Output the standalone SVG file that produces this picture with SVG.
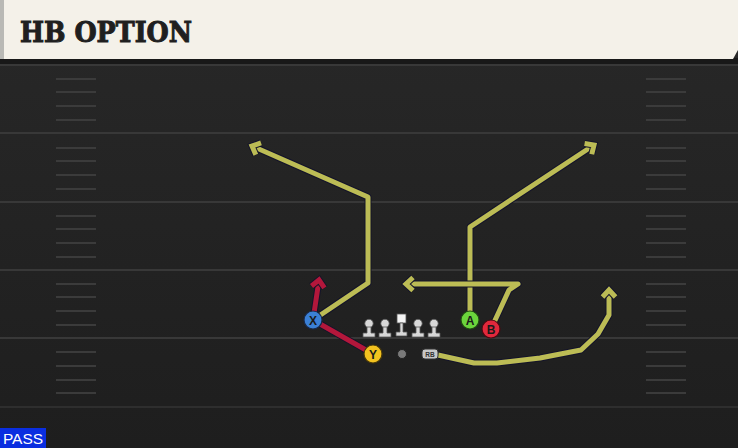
<svg xmlns="http://www.w3.org/2000/svg" width="738" height="448" viewBox="0 0 738 448">
<style>
.yl{stroke:#383838;stroke-width:2}
.hm{stroke:#3b3b3b;stroke-width:2}
.rt{fill:none;stroke-linejoin:round;stroke-linecap:butt}
.ro{stroke:#14142a;stroke-width:7}
.ry{stroke:#bcbc55;stroke-width:5}
.rr{stroke:#b3173b;stroke-width:5}
.lbl{font-family:"Liberation Sans",Arial,sans-serif;font-weight:bold;font-size:12px;text-anchor:middle;fill:#1a1a1a}
.ol{fill:#d8d8d8;stroke:#555;stroke-width:0.8}
.ah{fill:none;stroke-linejoin:miter;stroke-linecap:butt}
</style>
<defs>
<linearGradient id="bg" x1="0" y1="0" x2="0" y2="1">
<stop offset="0" stop-color="#282828"/>
<stop offset="1" stop-color="#1e1e1e"/>
</linearGradient>
<marker id="ay" markerWidth="20" markerHeight="20" refX="0" refY="0" viewBox="-12 -10 20 20" orient="auto" markerUnits="userSpaceOnUse" overflow="visible">
<path class="ah" d="M-7,-6.5 L0,0 L-7,6.5" stroke="#14142a" stroke-width="7"/>
<path class="ah" d="M-7,-6.5 L0,0 L-7,6.5" stroke="#bcbc55" stroke-width="5"/>
</marker>
<marker id="ar" markerWidth="20" markerHeight="20" refX="0" refY="0" viewBox="-12 -10 20 20" orient="auto" markerUnits="userSpaceOnUse" overflow="visible">
<path class="ah" d="M-7,-6.5 L0,0 L-7,6.5" stroke="#14142a" stroke-width="7"/>
<path class="ah" d="M-7,-6.5 L0,0 L-7,6.5" stroke="#b3173b" stroke-width="5"/>
</marker>
</defs>
<rect x="0" y="0" width="738" height="448" fill="url(#bg)"/>
<g id="field">
<line class="yl" x1="0" y1="65" x2="738" y2="65"/>
<line class="yl" x1="0" y1="133" x2="738" y2="133"/>
<line class="yl" x1="0" y1="202" x2="738" y2="202"/>
<line class="yl" x1="0" y1="270" x2="738" y2="270"/>
<line class="yl" x1="0" y1="338" x2="738" y2="338"/>
<line class="yl" x1="0" y1="407" x2="738" y2="407" stroke-opacity="0.6"/>
<g id="hash-left">
<line class="hm" x1="56" y1="79" x2="96" y2="79"/><line class="hm" x1="56" y1="92" x2="96" y2="92"/><line class="hm" x1="56" y1="106" x2="96" y2="106"/><line class="hm" x1="56" y1="120" x2="96" y2="120"/>
<line class="hm" x1="56" y1="148" x2="96" y2="148"/><line class="hm" x1="56" y1="161" x2="96" y2="161"/><line class="hm" x1="56" y1="175" x2="96" y2="175"/><line class="hm" x1="56" y1="189" x2="96" y2="189"/>
<line class="hm" x1="56" y1="216" x2="96" y2="216"/><line class="hm" x1="56" y1="229" x2="96" y2="229"/><line class="hm" x1="56" y1="243" x2="96" y2="243"/><line class="hm" x1="56" y1="257" x2="96" y2="257"/>
<line class="hm" x1="56" y1="284" x2="96" y2="284"/><line class="hm" x1="56" y1="297" x2="96" y2="297"/><line class="hm" x1="56" y1="311" x2="96" y2="311"/><line class="hm" x1="56" y1="325" x2="96" y2="325"/>
<line class="hm" x1="56" y1="352" x2="96" y2="352"/><line class="hm" x1="56" y1="366" x2="96" y2="366"/><line class="hm" x1="56" y1="380" x2="96" y2="380"/><line class="hm" x1="56" y1="393" x2="96" y2="393"/>
</g>
<g id="hash-right">
<line class="hm" x1="646" y1="79" x2="686" y2="79"/><line class="hm" x1="646" y1="92" x2="686" y2="92"/><line class="hm" x1="646" y1="106" x2="686" y2="106"/><line class="hm" x1="646" y1="120" x2="686" y2="120"/>
<line class="hm" x1="646" y1="148" x2="686" y2="148"/><line class="hm" x1="646" y1="161" x2="686" y2="161"/><line class="hm" x1="646" y1="175" x2="686" y2="175"/><line class="hm" x1="646" y1="189" x2="686" y2="189"/>
<line class="hm" x1="646" y1="216" x2="686" y2="216"/><line class="hm" x1="646" y1="229" x2="686" y2="229"/><line class="hm" x1="646" y1="243" x2="686" y2="243"/><line class="hm" x1="646" y1="257" x2="686" y2="257"/>
<line class="hm" x1="646" y1="284" x2="686" y2="284"/><line class="hm" x1="646" y1="297" x2="686" y2="297"/><line class="hm" x1="646" y1="311" x2="686" y2="311"/><line class="hm" x1="646" y1="325" x2="686" y2="325"/>
<line class="hm" x1="646" y1="352" x2="686" y2="352"/><line class="hm" x1="646" y1="366" x2="686" y2="366"/><line class="hm" x1="646" y1="380" x2="686" y2="380"/><line class="hm" x1="646" y1="393" x2="686" y2="393"/>
</g>
</g>
<g id="header">
<rect x="0" y="58" width="738" height="6" fill="#181818"/>
<path d="M0,0 H738 V50 L733,59 H0 Z" fill="#f4f1e9"/>
<rect x="0" y="0" width="4" height="59" fill="#b9b9b5"/>
<text x="20" y="42" font-family="'DejaVu Serif','Liberation Serif',serif" font-weight="bold" font-size="27" fill="#1f1f1f" stroke="#1f1f1f" stroke-width="1" textLength="172" lengthAdjust="spacingAndGlyphs">HB OPTION</text>
</g>
<g id="connectors">
<polyline class="rt ro" points="313,320 368,283 368,197 252,146"/>
<polyline class="rt ry" points="313,320 368,283 368,197 252,146" marker-end="url(#ay)"/>
<polyline class="rt ro" points="470,320 470,227 594,145"/>
<polyline class="rt ry" points="470,320 470,227 594,145" marker-end="url(#ay)"/>
<polyline class="rt ro" points="491,329 509,290 518,284 406,284"/>
<polyline class="rt ry" points="491,329 509,290 518,284 406,284" marker-end="url(#ay)"/>
<polyline class="rt ro" points="438,355 474,363 497,363 540,358 581,350 598,334 609,315 609,290"/>
<polyline class="rt ry" points="438,355 474,363 497,363 540,358 581,350 598,334 609,315 609,290" marker-end="url(#ay)"/>
<polyline class="rt ro" points="373,354 313,320 319,280"/>
<polyline class="rt rr" points="373,354 313,320 319,280" marker-end="url(#ar)"/>
</g>
<g id="line">
<g id="lt"><circle class="ol" cx="369" cy="323.5" r="4.2"/><path class="ol" d="M367,327 h4 v6 h4 v4 h-12 v-4 h4 Z"/></g>
<g id="lg"><circle class="ol" cx="385" cy="323.5" r="4.2"/><path class="ol" d="M383,327 h4 v6 h4 v4 h-12 v-4 h4 Z"/></g>
<g id="c"><rect x="397" y="314" width="9" height="9" fill="#f4f4f4" stroke="#555" stroke-width="0.8"/><path class="ol" d="M400,323 h3 v9 h4 v4 h-11 v-4 h4 Z"/></g>
<g id="rg"><circle class="ol" cx="418" cy="323.5" r="4.2"/><path class="ol" d="M416,327 h4 v6 h4 v4 h-12 v-4 h4 Z"/></g>
<g id="rt"><circle class="ol" cx="434" cy="323.5" r="4.2"/><path class="ol" d="M432,327 h4 v6 h4 v4 h-12 v-4 h4 Z"/></g>
</g>
<g id="ball"><circle cx="402" cy="354" r="4.5" fill="#7a7a7a" stroke="#222" stroke-width="1"/></g>
<g id="rb"><rect x="422" y="349" width="16" height="10" rx="3" fill="#c8c8c8" stroke="#333" stroke-width="1"/><text x="430" y="357" font-family="'Liberation Sans',Arial,sans-serif" font-weight="bold" font-size="6.5" text-anchor="middle" fill="#333">RB</text></g>
<g id="X"><circle cx="313" cy="320" r="9" fill="#3b80d6" stroke="#1a2a4a" stroke-width="1.2"/><text class="lbl" x="313" y="324.5">X</text></g>
<g id="Y"><circle cx="373" cy="354" r="9" fill="#f3c21f" stroke="#4a3a0a" stroke-width="1.2"/><text class="lbl" x="373" y="358.5">Y</text></g>
<g id="A"><circle cx="470" cy="320" r="9" fill="#6bd43c" stroke="#1f4a12" stroke-width="1.2"/><text class="lbl" x="470" y="324.5">A</text></g>
<g id="B"><circle cx="491" cy="329" r="9" fill="#e2283c" stroke="#4a0a12" stroke-width="1.2"/><text class="lbl" x="491" y="333.5" fill="#3a0a0e">B</text></g>
<g id="pass"><rect x="0" y="428" width="46" height="20" fill="#0a2ee0"/><text x="23" y="444" font-family="'Liberation Sans',Arial,sans-serif" font-size="15.5" text-anchor="middle" fill="#ffffff">PASS</text></g>
</svg>
